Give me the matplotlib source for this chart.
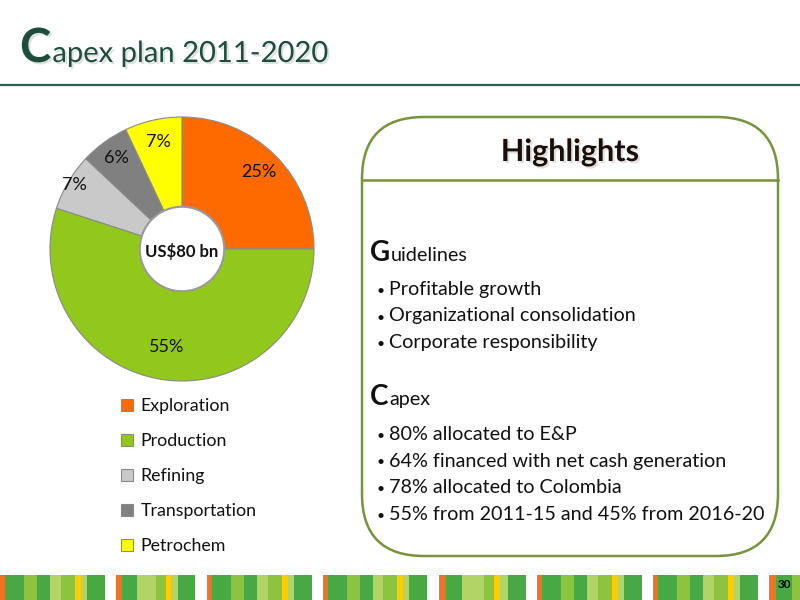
import matplotlib
matplotlib.use('Agg')
import matplotlib.pyplot as plt
from matplotlib.patches import FancyBboxPatch, Rectangle, Circle
import matplotlib.patheffects as pe
import numpy as np

# ---------------- data ----------------
categories = ['Exploration', 'Production', 'Refining', 'Transportation', 'Petrochem']
shares = [25, 55, 7, 6, 7]
slice_colors = ['#FF6A00', '#92C81C', '#C9C9C9', '#808080', '#FFFF00']
center_label = 'US$80 bn'
title_first = 'C'
title_rest = 'apex plan 2011-2020'
box_title = 'Highlights'
guidelines_head = ('G', 'uidelines')
guidelines = ['Profitable growth', 'Organizational consolidation', 'Corporate responsibility']
capex_head = ('C', 'apex')
capex_items = ['80% allocated to E&P', '64% financed with net cash generation',
               '78% allocated to Colombia', '55% from 2011-15 and 45% from 2016-20']
page_number = '30'

plt.rcParams['font.family'] = ['Lato', 'DejaVu Sans']
TXT = '#111111'
TITLE_C = '#1E4D3B'

fig = plt.figure(figsize=(8, 6), dpi=100)
bg = fig.add_axes([0, 0, 1, 1])
bg.set_xlim(0, 800)
bg.set_ylim(600, 0)
bg.axis('off')
renderer = fig.canvas.get_renderer()

shadow = [pe.withSimplePatchShadow(offset=(1.5, -1.5), shadow_rgbFace='#999999', alpha=0.3)]

def pair_text(x, y, pair, size1, size2, color, gap=0.5, effects=None):
    kw = dict(va='baseline', ha='left', color=color)
    if effects:
        kw['path_effects'] = effects
    t1 = bg.text(x, y, pair[0], fontsize=size1, fontweight='bold', **kw)
    bb = t1.get_window_extent(renderer)
    x_end = bg.transData.inverted().transform((bb.x1, bb.y0))[0]
    bg.text(x_end + gap, y, pair[1], fontsize=size2, **kw)

# title
pair_text(20, 62, (title_first, title_rest), 34, 21, TITLE_C, gap=1, effects=shadow)
bg.plot([0, 800], [85, 85], color='#2E5E4E', lw=1.6, solid_capstyle='butt')

# highlights box
box = FancyBboxPatch((362, 117), 416, 439, boxstyle='round,pad=0,rounding_size=62',
                     ec='#77933C', fc='white', lw=1.8)
bg.add_patch(box)
bg.plot([362, 778], [180, 180], color='#77933C', lw=1.8)
bg.text(570, 152, box_title, fontsize=22, fontweight='bold', color='#1A0E08', ha='center', va='center',
        path_effects=shadow)

def bullets(y0, items, pitch=26.5):
    for i, it in enumerate(items):
        y = y0 + i * pitch
        bg.text(376, y, '•', fontsize=10, color=TXT, va='baseline', ha='left')
        bg.text(389, y, it, fontsize=14.2, color=TXT, va='baseline', ha='left')

pair_text(370, 261, guidelines_head, 20, 14.2, TXT, gap=1)
bullets(295, guidelines)
pair_text(370, 405, capex_head, 20, 14.2, TXT, gap=1)
bullets(440, capex_items)

# footer stripes
O, D, M, P, Y = '#EE7325', '#48A844', '#8CC43F', '#B2D466', '#FFCC00'
long_pat = [(5, O), (19, D), (13, M), (13, D), (11, P), (14, M), (6, Y), (6, P), (18, D)]
short_pat = [(6, O), (15, D), (20, P), (10, M), (5, Y), (7, P), (17, D)]
last_pat = [(7, O), (16, D), (8, M)]
blocks = [(0, 105, long_pat), (116, 79, short_pat), (207, 105, long_pat), (323, 104, long_pat),
          (439, 87, short_pat), (537, 105, long_pat), (653, 105, long_pat), (769, 31, last_pat)]
for x0, w, pat in blocks:
    tot = sum(p[0] for p in pat)
    x = x0
    for pw, c in pat:
        ww = pw * w / tot
        bg.add_patch(Rectangle((x, 575), ww, 25, fc=c, ec='none'))
        x += ww
bg.text(784, 585, page_number, fontsize=8.5, fontweight='bold', color='black', ha='center', va='center')

# pie
R = 132
cx, cy = 182, 249
lim = 1.2
size = 2 * lim * R
pax = fig.add_axes([(cx - size / 2) / 800, (600 - cy - size / 2) / 600, size / 800, size / 600])
wedges, _ = pax.pie(shares, colors=slice_colors, startangle=90, counterclock=False, radius=1,
                    wedgeprops=dict(edgecolor='#8a8a8a', linewidth=0.8))
pax.set_xlim(-lim, lim)
pax.set_ylim(-lim, lim)
pax.set_aspect('equal')
pax.axis('off')
label_dist = [0.82, 0.75, 0.95, 0.85, 0.83]
for w, s, d in zip(wedges, shares, label_dist):
    a = np.deg2rad((w.theta1 + w.theta2) / 2)
    pax.text(d * np.cos(a), d * np.sin(a), f'{s}%', fontsize=13, color=TXT, ha='center', va='center')
pax.add_patch(Circle((0, 0), 0.32, fc='white', ec='#9A9A9A', lw=1.5, zorder=5))
pax.text(0, -0.02, center_label, fontsize=12, fontweight='bold', color=TXT, ha='center', va='center', zorder=6)

leg = fig.legend(wedges, categories, loc='upper left', bbox_to_anchor=(121 / 800, 1 - 398 / 600),
                 bbox_transform=fig.transFigure, frameon=False, fontsize=12.8, handlelength=0.65,
                 handleheight=0.65, handletextpad=0.45, labelspacing=1.07, borderpad=0, borderaxespad=0)
for t in leg.get_texts():
    t.set_color(TXT)

fig.savefig('out.png', dpi=100)
